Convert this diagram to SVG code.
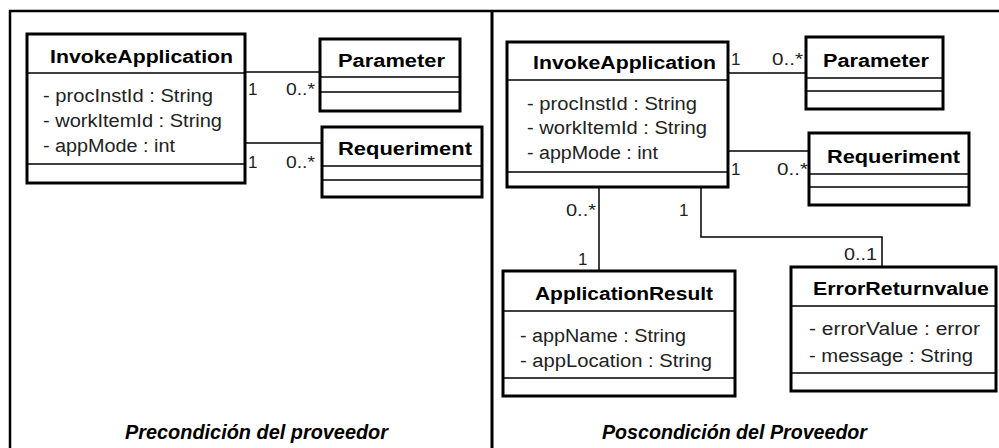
<svg xmlns="http://www.w3.org/2000/svg" width="999" height="448" viewBox="0 0 999 448">
<style>
.box{fill:#fff;stroke:#000;stroke-width:3}
.sep{stroke:#000;stroke-width:1.5}
.con{fill:none;stroke:#000;stroke-width:1.5}
.frame{fill:none;stroke:#000;stroke-width:2.5}
.t{font-family:"Liberation Sans",Arial,sans-serif;font-weight:bold;font-size:18px;fill:#000}
.a{font-family:"Liberation Sans",Arial,sans-serif;font-size:18px;fill:#222}
.m{font-family:"Liberation Sans",Arial,sans-serif;font-size:17px;fill:#222}
.cap{font-family:"Liberation Sans",Arial,sans-serif;font-weight:bold;font-style:italic;font-size:20px;fill:#000}
</style>
<rect x="0" y="0" width="999" height="448" fill="#fff"/>
<g id="frame">
<path class="frame" d="M10,448 V11 H999"/>
<line x1="492" y1="11" x2="492" y2="448" stroke="#000" stroke-width="3"/>
</g>
<g id="connectors">
<line class="con" x1="245" y1="72" x2="320" y2="72"/>
<line class="con" x1="245" y1="143" x2="322" y2="143"/>
<line class="con" x1="728" y1="73" x2="806" y2="73"/>
<line class="con" x1="728" y1="151" x2="809" y2="151"/>
<line class="con" x1="599" y1="187" x2="599" y2="271"/>
<polyline class="con" points="701,187 701,237 882,237 882,267"/>
<text class="m" x="248" y="95">1</text>
<text class="m" x="286" y="95" textLength="29" lengthAdjust="spacingAndGlyphs">0..*</text>
<text class="m" x="248" y="168">1</text>
<text class="m" x="286" y="168" textLength="29" lengthAdjust="spacingAndGlyphs">0..*</text>
<text class="m" x="731" y="65">1</text>
<text class="m" x="772" y="65" textLength="31" lengthAdjust="spacingAndGlyphs">0..*</text>
<text class="m" x="731" y="175">1</text>
<text class="m" x="777" y="175" textLength="31" lengthAdjust="spacingAndGlyphs">0..*</text>
<text class="m" x="566" y="216" textLength="30" lengthAdjust="spacingAndGlyphs">0..*</text>
<text class="m" x="679" y="216">1</text>
<text class="m" x="578" y="265">1</text>
<text class="m" x="844" y="260" textLength="33" lengthAdjust="spacingAndGlyphs">0..1</text>
</g>
<g id="pre-invoke">
<rect class="box" x="27" y="34" width="218" height="149"/>
<line class="sep" x1="27" y1="73" x2="245" y2="73"/>
<line class="sep" x1="27" y1="164" x2="245" y2="164"/>
<text class="t" x="50" y="63" textLength="183" lengthAdjust="spacingAndGlyphs">InvokeApplication</text>
<text class="a" x="43" y="102" textLength="170" lengthAdjust="spacingAndGlyphs">- procInstId : String</text>
<text class="a" x="43" y="127" textLength="179" lengthAdjust="spacingAndGlyphs">- workItemId : String</text>
<text class="a" x="43" y="152" textLength="132" lengthAdjust="spacingAndGlyphs">- appMode : int</text>
</g>
<g id="pre-parameter">
<rect class="box" x="320" y="39" width="140" height="72"/>
<line class="sep" x1="320" y1="77" x2="460" y2="77"/>
<line class="sep" x1="320" y1="92" x2="460" y2="92"/>
<text class="t" x="338" y="67" textLength="107" lengthAdjust="spacingAndGlyphs">Parameter</text>
</g>
<g id="pre-requeriment">
<rect class="box" x="322" y="127" width="160" height="70"/>
<line class="sep" x1="322" y1="166" x2="482" y2="166"/>
<line class="sep" x1="322" y1="180" x2="482" y2="180"/>
<text class="t" x="338" y="155" textLength="134" lengthAdjust="spacingAndGlyphs">Requeriment</text>
</g>
<g id="post-invoke">
<rect class="box" x="507" y="42" width="221" height="145"/>
<line class="sep" x1="507" y1="80" x2="728" y2="80"/>
<line class="sep" x1="507" y1="172" x2="728" y2="172"/>
<text class="t" x="533" y="69" textLength="183" lengthAdjust="spacingAndGlyphs">InvokeApplication</text>
<text class="a" x="527" y="110" textLength="170" lengthAdjust="spacingAndGlyphs">- procInstId : String</text>
<text class="a" x="527" y="134" textLength="180" lengthAdjust="spacingAndGlyphs">- workItemId : String</text>
<text class="a" x="527" y="159" textLength="131" lengthAdjust="spacingAndGlyphs">- appMode : int</text>
</g>
<g id="post-parameter">
<rect class="box" x="806" y="37" width="137" height="72"/>
<line class="sep" x1="806" y1="78" x2="943" y2="78"/>
<line class="sep" x1="806" y1="91" x2="943" y2="91"/>
<text class="t" x="823" y="67" textLength="106" lengthAdjust="spacingAndGlyphs">Parameter</text>
</g>
<g id="post-requeriment">
<rect class="box" x="809" y="133" width="160" height="72"/>
<line class="sep" x1="809" y1="174" x2="969" y2="174"/>
<line class="sep" x1="809" y1="187" x2="969" y2="187"/>
<text class="t" x="827" y="163" textLength="133" lengthAdjust="spacingAndGlyphs">Requeriment</text>
</g>
<g id="application-result">
<rect class="box" x="503" y="271" width="232" height="125"/>
<line class="sep" x1="503" y1="311" x2="735" y2="311"/>
<line class="sep" x1="503" y1="378" x2="735" y2="378"/>
<text class="t" x="535" y="300" textLength="178" lengthAdjust="spacingAndGlyphs">ApplicationResult</text>
<text class="a" x="520" y="342" textLength="166" lengthAdjust="spacingAndGlyphs">- appName : String</text>
<text class="a" x="520" y="367" textLength="192" lengthAdjust="spacingAndGlyphs">- appLocation : String</text>
</g>
<g id="error-return">
<rect class="box" x="791" y="267" width="205" height="124"/>
<line class="sep" x1="791" y1="306" x2="996" y2="306"/>
<line class="sep" x1="791" y1="373" x2="996" y2="373"/>
<text class="t" x="813" y="295" textLength="176" lengthAdjust="spacingAndGlyphs">ErrorReturnvalue</text>
<text class="a" x="809" y="335" textLength="171" lengthAdjust="spacingAndGlyphs">- errorValue : error</text>
<text class="a" x="809" y="362" textLength="164" lengthAdjust="spacingAndGlyphs">- message : String</text>
</g>
<g id="captions">
<text class="cap" x="125" y="439" textLength="263" lengthAdjust="spacingAndGlyphs">Precondición del proveedor</text>
<text class="cap" x="602" y="439" textLength="265" lengthAdjust="spacingAndGlyphs">Poscondición del Proveedor</text>
</g>
</svg>
